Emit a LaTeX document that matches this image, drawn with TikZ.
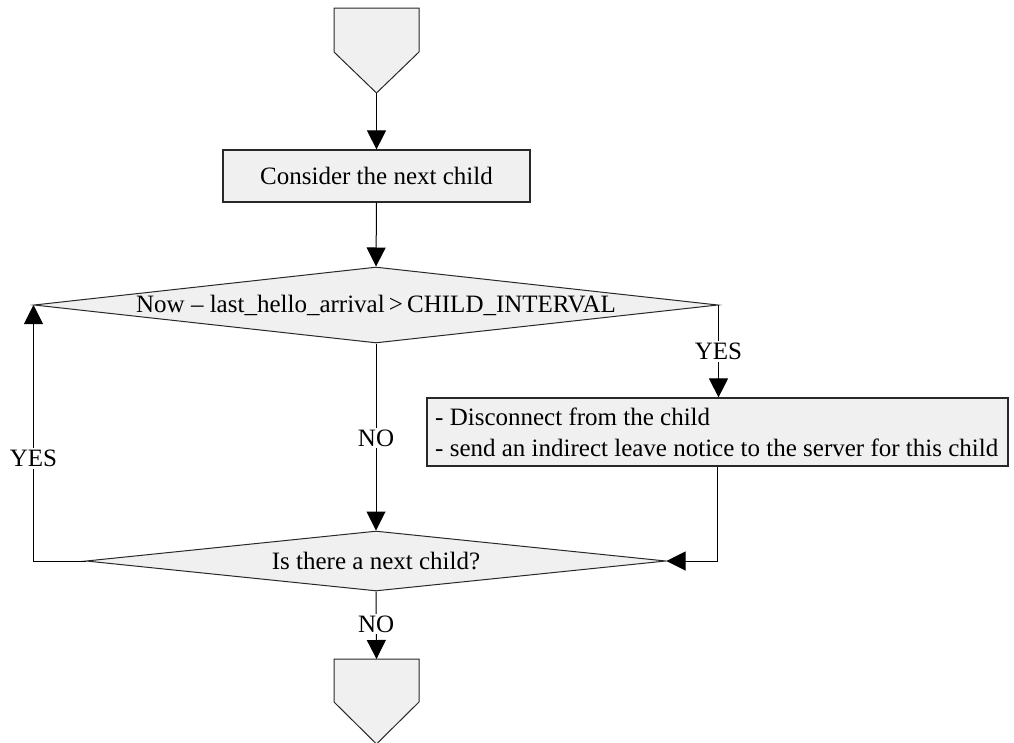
\documentclass[tikz,border=0pt]{standalone}
\usepackage{fontspec}
\setmainfont{Liberation Serif}
\usetikzlibrary{shapes.geometric,arrows.meta}
\definecolor{boxfill}{RGB}{240,240,240}
\definecolor{edge}{RGB}{40,40,40}
\tikzset{
  every node/.style={font=\fontsize{25}{30}\selectfont},
  procbox/.style={draw=edge,fill=boxfill,line width=1.2pt,rectangle,inner sep=0pt},
  decision/.style={draw=edge,fill=boxfill,line width=1pt,diamond,inner sep=0pt},
  terminal/.style={draw=edge,fill=boxfill,line width=1pt},
  flow/.style={line width=1pt,-{Triangle[length=19pt,width=19pt]}},
  lbl/.style={fill=white,inner sep=2pt}
}
\begin{document}
\begin{tikzpicture}[x=1pt,y=-1pt]
\useasboundingbox (0,0) rectangle (1014,742);
\begin{scope}
\clip (0,0) rectangle (1014,742);

% entry connector
\draw[terminal] (334,8) -- (419,8) -- (419,52) -- (376.5,93) -- (334,52) -- cycle;
\coordinate (entry) at (376.5,93);

% process steps
\node[procbox,minimum width=307pt,minimum height=52pt] (consider) at (376.5,176) {};
\node (considerText) at (consider) {Consider the next child};

\node[decision,minimum width=684pt,minimum height=76pt] (timeout) at (376,305) {};
\node (timeoutText) at (timeout) {Now -- last\_hello\_arrival\,>\,CHILD\_INTERVAL};

\node[procbox,minimum width=581pt,minimum height=68pt] (disconnect) at (717.5,432) {};
\node[anchor=west,align=left,inner sep=0pt,font=\fontsize{25}{31}\selectfont] (disconnectText) at (435,432)
  {- Disconnect from the child\\- send an indirect leave notice to the server for this child};

\node[decision,minimum width=580pt,minimum height=60pt] (more) at (376,561) {};
\node (moreText) at (more) {Is there a next child?};

% exit connector
\draw[terminal] (334,659) -- (419,659) -- (419,702) -- (376.5,744) -- (334,702) -- cycle;
\coordinate (exit) at (376.5,659);

% connectors
\draw[flow] (entry) -- (consider.north);
\draw[flow] (consider.south) -- (timeout.north);
\draw[flow] (timeout.east) -- (disconnect.north -| timeout.east)
  node[lbl,pos=0.5] (yesRight) {YES};
\draw[flow] (timeout.south) -- (more.north)
  node[lbl,pos=0.505] (noMid) {NO};
\coordinate (rightBend) at (disconnect.south |- more.east);
\draw[flow] (disconnect.south) -- (rightBend) -- (more.east);
\coordinate (leftBend) at (timeout.west |- more.west);
\draw[flow] (more.west) -- (leftBend) -- (timeout.west)
  node[lbl,pos=0.4] (yesLeft) {YES};
\draw[flow] (more.south) -- (exit)
  node[lbl,pos=0.48] (noBottom) {NO};
\end{scope}
\end{tikzpicture}
\end{document}
